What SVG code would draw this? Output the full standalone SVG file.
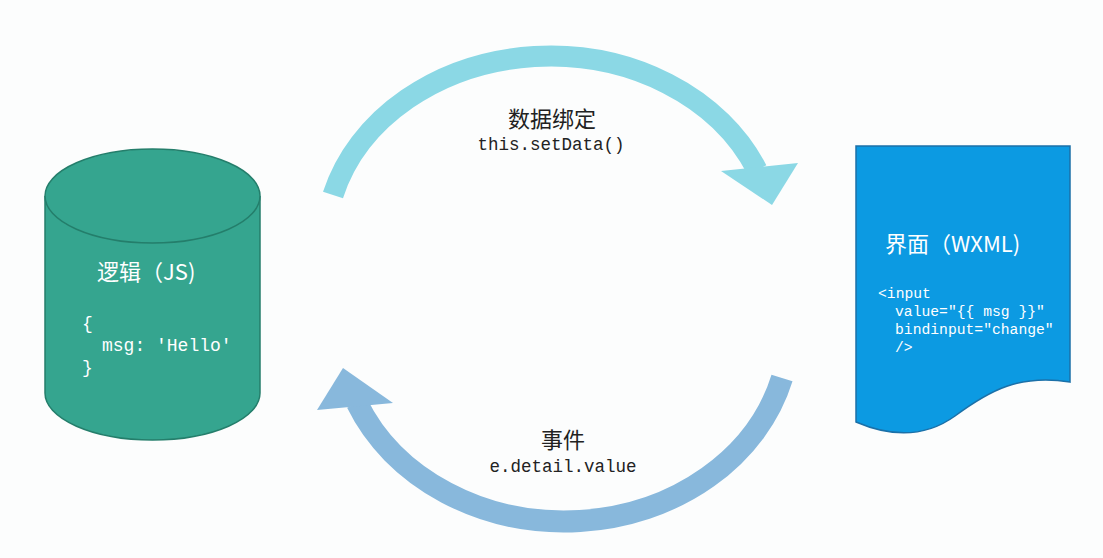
<svg xmlns="http://www.w3.org/2000/svg" width="1103" height="558" viewBox="0 0 1103 558">
<style>
.title{font-family:"Noto Sans CJK SC","Noto Sans",sans-serif;font-size:22px;fill:#ffffff}
.code{font-family:"Liberation Mono","DejaVu Sans Mono",monospace;fill:#ffffff}
.lbl{font-family:"Noto Sans CJK SC","Noto Sans",sans-serif;font-size:22px;fill:#222222;text-anchor:middle}
.lcode{font-family:"Liberation Mono","DejaVu Sans Mono",monospace;font-size:17.5px;fill:#222222;text-anchor:middle}
.band{fill:none;stroke-linecap:butt}
</style>
<rect width="1103" height="558" fill="#fcfdfd"/>
<g id="logic-js">
<path d="M45,196 V393 A107.5,47 0 0 0 260,393 V196" fill="#35a58f" stroke="#247e6b" stroke-width="1.5"/>
<ellipse cx="152.5" cy="196" rx="107.5" ry="47" fill="#35a58f" stroke="#247e6b" stroke-width="1.5"/>
<text class="title" x="97" y="280">逻辑（JS)</text>
<text class="code" font-size="18" x="82" y="329">{</text>
<text class="code" font-size="18" x="102" y="351">msg: 'Hello'</text>
<text class="code" font-size="18" x="82" y="373">}</text>
</g>
<g id="view-wxml">
<path d="M856,146 H1070 V382 C1020,374 990,390 955,416 C930,434 898,440 856,422 Z" fill="#0c9ae2" stroke="#1b70a8" stroke-width="1.5"/>
<text class="title" x="885" y="252">界面（WXML)</text>
<text class="code" font-size="14.7" x="878" y="298">&lt;input</text>
<text class="code" font-size="14.7" x="895" y="316">value="{{ msg }}"</text>
<text class="code" font-size="14.7" x="895" y="334">bindinput="change"</text>
<text class="code" font-size="14.7" x="895" y="352">/&gt;</text>
</g>
<g id="connectors">
<g id="data-binding">
<path class="band" d="M333,195 A225,188 0 0 1 757,170" stroke="#8bd8e5" stroke-width="21"/>
<polygon points="721,171 798,163 772,205" fill="#8bd8e5"/>
<text class="lbl" x="552" y="127">数据绑定</text>
<text class="lcode" x="551" y="150">this.setData()</text>
</g>
<g id="event">
<path class="band" d="M782,378 A225,193 0 0 1 357,403" stroke="#88b8dc" stroke-width="22"/>
<polygon points="317,410 343,368 393,403" fill="#88b8dc"/>
<text class="lbl" x="563" y="448">事件</text>
<text class="lcode" x="563" y="472">e.detail.value</text>
</g>
</g>
</svg>
